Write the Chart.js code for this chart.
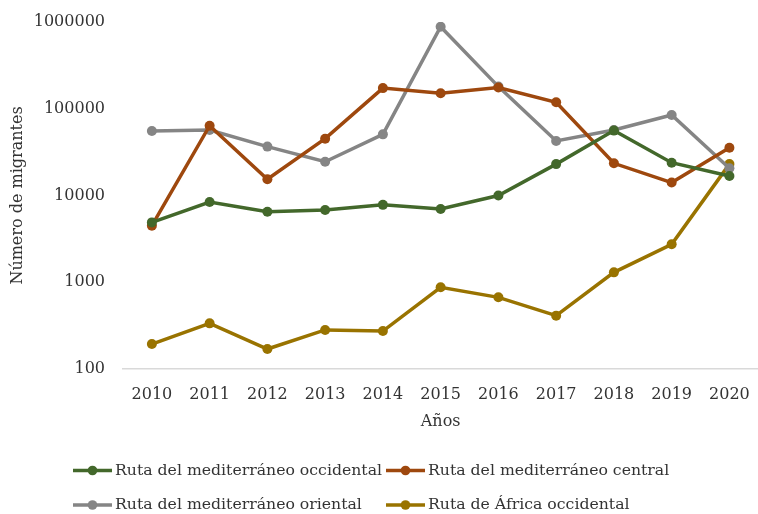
<!DOCTYPE html>
<html>
<head>
<meta charset="utf-8">
<script src="https://cdn.jsdelivr.net/npm/chart.js@4"></script>
<style>
    html, body { margin: 0; padding: 0; background: #fff; overflow: hidden; }
    #wrap { position: relative; width: 766px; height: 514px; }
</style>
</head>
<body>
<div id="wrap"><canvas id="chartRutas"></canvas></div>
<script>
// datos
const anios = ['2010', '2011', '2012', '2013', '2014', '2015', '2016', '2017', '2018', '2019', '2020'];
const occidental = [4900, 8400, 6500, 6800, 7800, 7000, 10000, 23000, 56000, 23900, 16800];
const central = [4490, 63800, 15400, 45200, 173000, 151000, 176000, 119000, 23500, 14100, 35600];
const oriental = [55400, 56900, 36600, 24500, 50700, 883000, 180000, 42500, 56900, 84700, 20600];
const africa = [194, 336, 170, 282, 274, 875, 670, 412, 1300, 2740, 23000];
const ticksY = [100, 1000, 10000, 100000, 1000000];

const fuente = '"DejaVu Serif", serif';
const colLeyenda = [73, 386];
const filaLeyenda = [470.5, 505];

function serie(label, data, color) {
    return {
        label: label,
        data: data,
        borderColor: color,
        backgroundColor: color,
        pointBackgroundColor: color,
        pointBorderColor: color,
        borderWidth: 3.5,
        pointRadius: 5,
        pointBorderWidth: 0,
        pointHoverRadius: 5,
        tension: 0
    };
}

// leyenda en dos columnas como en el original
const leyendaPlugin = {
    id: 'leyendaRejilla',
    afterDraw(chart) {
        const ctx = chart.ctx;
        ctx.save();
        ctx.font = '15.7px ' + fuente;
        ctx.textBaseline = 'middle';
        chart.data.datasets.forEach((ds, i) => {
            const x = colLeyenda[i % 2];
            const y = filaLeyenda[Math.floor(i / 2)];
            ctx.strokeStyle = ds.borderColor;
            ctx.lineWidth = 3.5;
            ctx.beginPath();
            ctx.moveTo(x, y);
            ctx.lineTo(x + 39, y);
            ctx.stroke();
            ctx.fillStyle = ds.borderColor;
            ctx.beginPath();
            ctx.arc(x + 19.5, y, 4.8, 0, Math.PI * 2);
            ctx.fill();
            ctx.fillStyle = '#333333';
            ctx.fillText(ds.label, x + 42, y);
        });
        ctx.restore();
    }
};

const data = {
    labels: anios,
    datasets: [
        serie('Ruta del mediterráneo occidental', occidental, '#43682B'),
        serie('Ruta del mediterráneo central', central, '#9E480E'),
        serie('Ruta del mediterráneo oriental', oriental, '#858585'),
        serie('Ruta de África occidental', africa, '#997300')
    ]
};

const config = {
    type: 'line',
    data: data,
    plugins: [leyendaPlugin],
    options: {
        responsive: true,
        maintainAspectRatio: false,
        animation: false,
        layout: { padding: { top: 22, left: 0, right: 4, bottom: 83 } },
        plugins: {
            legend: { display: false },
            tooltip: { enabled: false }
        },
        scales: {
            x: {
                offset: true,
                grid: { display: false, drawTicks: false, offset: true },
                border: { display: true, color: '#d9d9d9', width: 1.5 },
                ticks: { color: '#333333', font: { family: fuente, size: 16 }, padding: 16 },
                title: { display: true, text: 'Años', color: '#333333', font: { family: fuente, size: 16 }, padding: 0 },
                afterFit: (s) => { s.height = 62; }
            },
            y: {
                type: 'logarithmic',
                min: 100,
                max: 1000000,
                grid: { display: false, drawTicks: false },
                border: { display: false },
                afterBuildTicks: (s) => { s.ticks = ticksY.map((v) => ({ value: v })); },
                ticks: {
                    color: '#333333',
                    font: { family: fuente, size: 16 },
                    padding: 18,
                    callback: (v) => String(v)
                },
                title: { display: true, text: 'Número de migrantes', color: '#333333', font: { family: fuente, size: 16 }, padding: { top: 8, bottom: 0 } },
                afterFit: (s) => {
                    s.width = 123;
                    s.paddingTop = 0;
                    s.paddingBottom = 0;
                }
            }
        }
    }
};

const canvasRutas = document.getElementById('chartRutas');
const graficoRutas = new Chart(canvasRutas, config);
</script>
</body>
</html>
